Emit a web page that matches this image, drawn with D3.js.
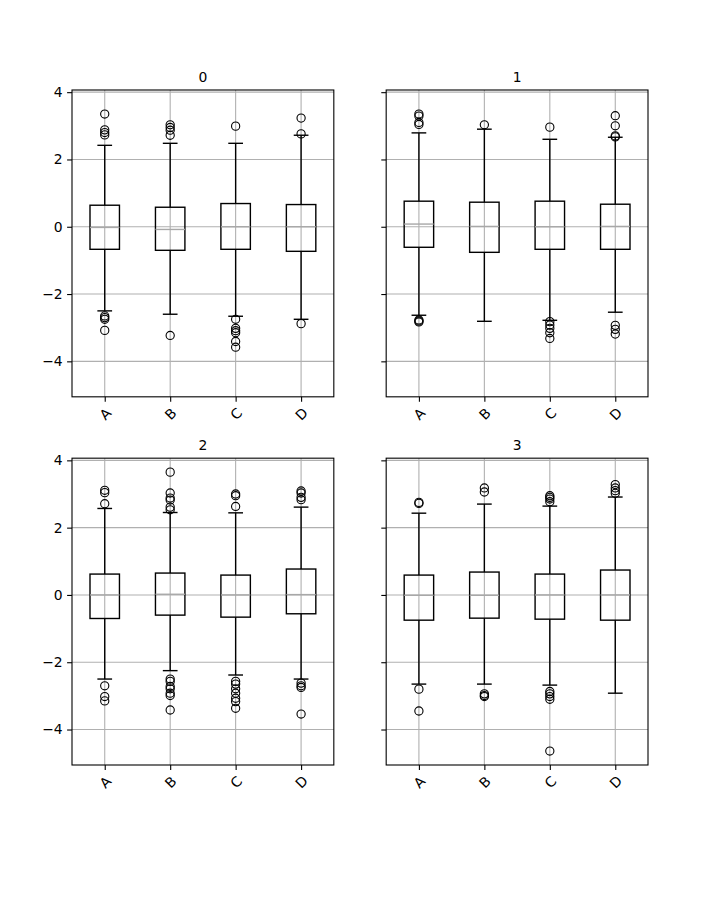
<!DOCTYPE html>
<html>
<head>
<meta charset="utf-8">
<title>grouped boxplots</title>
<style>
  body { margin: 0; background: white; }
  svg text { font-family: "DejaVu Sans", sans-serif; fill: black; }
</style>
</head>
<body>
<div id="chart"></div>
<script src="https://d3js.org/d3.v7.min.js"></script>
<script>
// one panel per group, one box per column
var groups = ["0", "1", "2", "3"];
var columns = ["A", "B", "C", "D"];
var yTicks = [-4, -2, 0, 2, 4];

var q1 = [
  [-0.67, -0.70, -0.67, -0.73],
  [-0.61, -0.76, -0.67, -0.67],
  [-0.70, -0.60, -0.66, -0.56],
  [-0.75, -0.69, -0.72, -0.75]
];
var medians = [
  [-0.02, -0.08, 0.00, 0.00],
  [0.08, 0.01, 0.00, 0.01],
  [0.00, 0.02, 0.00, 0.01],
  [-0.01, -0.01, 0.00, 0.00]
];
var q3 = [
  [0.64, 0.58, 0.69, 0.66],
  [0.76, 0.73, 0.76, 0.67],
  [0.62, 0.65, 0.59, 0.77],
  [0.59, 0.68, 0.62, 0.74]
];
var whiskerLow = [
  [-2.50, -2.60, -2.66, -2.75],
  [-2.63, -2.81, -2.78, -2.54],
  [-2.50, -2.25, -2.38, -2.50],
  [-2.65, -2.65, -2.68, -2.92]
];
var whiskerHigh = [
  [2.42, 2.48, 2.48, 2.72],
  [2.79, 2.90, 2.60, 2.66],
  [2.57, 2.45, 2.44, 2.61],
  [2.43, 2.70, 2.64, 2.91]
];
var fliers = [
  [[3.35, 2.88, 2.80, 2.73, -2.65, -2.70, -2.75, -3.08],
   [3.03, 2.95, 2.87, 2.72, -3.23],
   [2.99, -2.75, -3.02, -3.09, -3.15, -3.41, -3.58],
   [3.23, 2.76, -2.88]],
  [[3.35, 3.29, 3.10, 3.04, -2.77, -2.80, -2.83],
   [3.03],
   [2.96, -2.82, -2.92, -3.02, -3.15, -3.32],
   [3.30, 3.00, 2.70, 2.67, -2.93, -3.05, -3.19]],
  [[3.11, 3.04, 2.71, -2.70, -3.02, -3.15],
   [3.65, 3.03, 2.88, 2.82, 2.61, 2.53, -2.50, -2.57, -2.72, -2.79, -2.92, -2.99, -3.42],
   [3.00, 2.95, 2.63, -2.57, -2.65, -2.79, -2.92, -3.07, -3.17, -3.37],
   [3.09, 3.03, 2.90, 2.83, -2.62, -2.70, -2.75, -3.54]],
  [[2.75, 2.72, -2.80, -3.45],
   [3.18, 3.06, -2.94, -2.99, -3.02],
   [2.95, 2.90, 2.85, 2.77, -2.87, -2.94, -3.02, -3.10, -4.64],
   [3.28, 3.18, 3.10, 3.02]]
];

var W = 720, H = 900;
var mLeft = 72, mRight = 648, mTop = 90, mBottom = 765;
var pw = (mRight - mLeft) / 2.2, ph = (mBottom - mTop) / 2.2;

// shared y range: data extent plus 5% each side
var allVals = d3.merge([d3.merge(whiskerLow), d3.merge(whiskerHigh), d3.merge(fliers.map(function(f) { return d3.merge(f); }))]);
var ext = d3.extent(allVals);
var pad = (ext[1] - ext[0]) * 0.05;
var y = d3.scaleLinear().domain([ext[0] - pad, ext[1] + pad]).range([ph, 0]);
var x = d3.scaleLinear().domain([0.5, 4.5]).range([0, pw]);
var boxW = x(1.45) - x(1), capW = boxW / 2;

var svg = d3.select("#chart").append("svg")
  .attr("width", W).attr("height", H);

var fmt = function(v) { return String(v).replace("-", "\u2212"); };

groups.forEach(function(g, gi) {
  var col = gi % 2, row = Math.floor(gi / 2);
  var ax = svg.append("g")
    .attr("transform", "translate(" + (mLeft + col * pw * 1.2) + "," + (mTop + row * ph * 1.2) + ")");

  // grid
  ax.append("g").selectAll("line").data(yTicks).join("line")
    .attr("x1", 0).attr("x2", pw)
    .attr("y1", function(d) { return y(d); }).attr("y2", function(d) { return y(d); })
    .attr("stroke", "#b0b0b0").attr("stroke-width", 1.1);
  ax.append("g").selectAll("line").data(columns).join("line")
    .attr("x1", function(d, i) { return x(i + 1); }).attr("x2", function(d, i) { return x(i + 1); })
    .attr("y1", 0).attr("y2", ph)
    .attr("stroke", "#b0b0b0").attr("stroke-width", 1.1);

  // boxes
  var bx = ax.append("g").selectAll("g").data(columns).join("g")
    .attr("transform", function(d, i) { return "translate(" + x(i + 1) + ",0)"; });

  bx.append("line")
    .attr("x1", 0).attr("x2", 0)
    .attr("y1", function(d, i) { return y(q3[gi][i]); })
    .attr("y2", function(d, i) { return y(whiskerHigh[gi][i]); })
    .attr("stroke", "black").attr("stroke-width", 1.4);
  bx.append("line")
    .attr("x1", 0).attr("x2", 0)
    .attr("y1", function(d, i) { return y(q1[gi][i]); })
    .attr("y2", function(d, i) { return y(whiskerLow[gi][i]); })
    .attr("stroke", "black").attr("stroke-width", 1.4);
  bx.append("line")
    .attr("x1", -capW / 2).attr("x2", capW / 2)
    .attr("y1", function(d, i) { return y(whiskerHigh[gi][i]); })
    .attr("y2", function(d, i) { return y(whiskerHigh[gi][i]); })
    .attr("stroke", "black").attr("stroke-width", 1.4);
  bx.append("line")
    .attr("x1", -capW / 2).attr("x2", capW / 2)
    .attr("y1", function(d, i) { return y(whiskerLow[gi][i]); })
    .attr("y2", function(d, i) { return y(whiskerLow[gi][i]); })
    .attr("stroke", "black").attr("stroke-width", 1.4);
  bx.append("rect")
    .attr("x", -boxW / 2).attr("width", boxW)
    .attr("y", function(d, i) { return y(q3[gi][i]); })
    .attr("height", function(d, i) { return y(q1[gi][i]) - y(q3[gi][i]); })
    .attr("fill", "none").attr("stroke", "black").attr("stroke-width", 1.4);
  bx.append("line")
    .attr("x1", -boxW / 2).attr("x2", boxW / 2)
    .attr("y1", function(d, i) { return y(medians[gi][i]); })
    .attr("y2", function(d, i) { return y(medians[gi][i]); })
    .attr("stroke", "#a8a8a8").attr("stroke-width", 1.4);
  bx.each(function(d, i) {
    d3.select(this).selectAll("circle").data(fliers[gi][i]).join("circle")
      .attr("cx", 0).attr("cy", function(v) { return y(v); })
      .attr("r", 4.1)
      .attr("fill", "none").attr("stroke", "black").attr("stroke-width", 1.1);
  });

  // frame
  ax.append("rect").attr("width", pw).attr("height", ph)
    .attr("fill", "none").attr("stroke", "black").attr("stroke-width", 1.1);

  // y axis
  var yAxis = d3.axisLeft(y).tickValues(yTicks).tickSize(4.9).tickPadding(4.5)
    .tickFormat(col === 0 ? fmt : function() { return ""; });
  var ya = ax.append("g").call(yAxis);
  ya.select(".domain").remove();
  ya.selectAll("line").attr("stroke-width", 1.1);
  ya.selectAll("text").attr("font-size", "13.9px").attr("font-family", "DejaVu Sans");

  // x axis, labels turned 45 degrees
  var xa = ax.append("g").attr("transform", "translate(0," + ph + ")")
    .call(d3.axisBottom(x).tickValues([1, 2, 3, 4]).tickSize(4.9)
      .tickFormat(function(d) { return columns[d - 1]; }));
  xa.select(".domain").remove();
  xa.selectAll("line").attr("stroke-width", 1.1);
  xa.selectAll("text")
    .attr("font-size", "13.9px").attr("font-family", "DejaVu Sans")
    .attr("y", 0).attr("dy", null)
    .attr("text-anchor", "middle").attr("dominant-baseline", "central")
    .attr("transform", "translate(0,17) rotate(-45)");

  ax.append("text")
    .attr("x", pw / 2).attr("y", -8.3)
    .attr("text-anchor", "middle")
    .attr("font-size", "13.9px")
    .text(g);
});
</script>
</body>
</html>
